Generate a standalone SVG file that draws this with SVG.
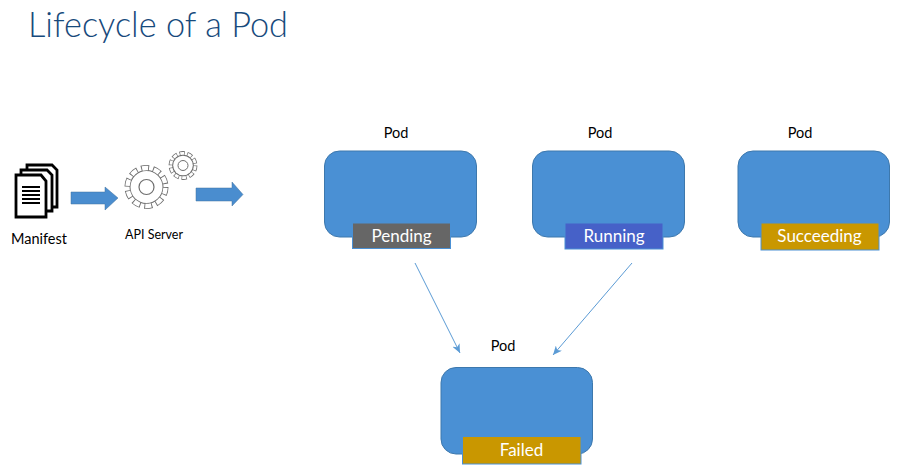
<svg xmlns="http://www.w3.org/2000/svg" width="918" height="473" viewBox="0 0 918 473">
<style>
text{font-family:"Lato","Open Sans","Liberation Sans",sans-serif}
.t{font-size:14.5px;fill:#000;text-anchor:middle}
.s{font-size:17px;fill:#fff;text-anchor:middle}
.pod{fill:#4a90d4;stroke:#3d78ad;stroke-width:1}
.tag{stroke:#4a90d4;stroke-width:1}
.blk{fill:#4a8dcf;stroke:#41719c;stroke-width:.5}
.pg{fill:#fff;stroke:#000;stroke-width:2.8}
.ln{stroke:#000;stroke-width:2}
.c{stroke:#5b9bd5;stroke-width:1;fill:none;marker-end:url(#a)}
.g{fill:none;stroke:#6e6e6e}
.w{fill:none;stroke:#fff}
</style>
<defs>
<marker id="a" markerWidth="10" markerHeight="8" refX="9" refY="4" orient="auto" markerUnits="userSpaceOnUse"><path d="M0 0L9 4L0 8L2.500 4Z" fill="#5b9bd5"/></marker>
</defs>
<rect width="918" height="473" fill="#fff"/>
<text id="title" x="28" y="37" font-size="35" font-weight="300" fill="#174a7c" textLength="260" lengthAdjust="spacingAndGlyphs">Lifecycle of a Pod</text>
<g id="manifest">
<path class="pg" d="M27 165H52L57 170V207H27Z"/>
<path class="pg" d="M21 170H47L52 175V211H21Z"/>
<path class="pg" d="M16 175H41L46 181V217H16Z"/>
<path class="ln" d="M22 187H40M22 191H40M22 195H40M22 199H40M22 203H40"/>
<text class="t" x="39" y="244">Manifest</text>
</g>
<g id="api-server">
<g transform="translate(146.500 187)">
<circle r="17" fill="#6e6e6e"/>
<circle class="g" r="19" stroke-width="6" stroke-dasharray="8 3.938"/>
<circle class="w" r="19" stroke-width="4.400" stroke-dasharray="6.200 5.738" stroke-dashoffset="-.9"/>
<circle r="16" fill="#fff"/>
<circle r="7.500" fill="#fff" stroke="#6e6e6e" stroke-width="1.200"/>
</g>
<g transform="translate(183 165.500)">
<circle r="10.800" fill="#6e6e6e"/>
<circle class="g" r="12.200" stroke-width="4.400" stroke-dasharray="5.200 2.466"/>
<circle class="w" r="12.200" stroke-width="2.800" stroke-dasharray="3.900 3.766" stroke-dashoffset="-.65"/>
<circle r="9.800" fill="#fff"/>
<circle r="5" fill="#fff" stroke="#6e6e6e" stroke-width="1"/>
</g>
<text x="154" y="239" font-size="12.500" fill="#000" text-anchor="middle">API Server</text>
</g>
<g id="pod-pending">
<text class="t" x="396" y="138">Pod</text>
<rect class="pod" x="324.500" y="151" width="152" height="86" rx="15"/>
<rect class="tag" x="352.500" y="223" width="98" height="25.500" fill="#666"/>
<text class="s" x="401.500" y="242">Pending</text>
</g>
<g id="pod-running">
<text class="t" x="600" y="138">Pod</text>
<rect class="pod" x="532.500" y="151" width="152" height="86" rx="15"/>
<rect class="tag" x="565" y="223" width="98" height="26" fill="#4661c8"/>
<text class="s" x="614" y="242">Running</text>
</g>
<g id="pod-succeeding">
<text class="t" x="800" y="138">Pod</text>
<rect class="pod" x="738" y="151" width="151.500" height="86" rx="15"/>
<rect class="tag" x="761" y="223" width="118" height="27" fill="#c99700"/>
<text class="s" x="819.500" y="242">Succeeding</text>
</g>
<g id="pod-failed">
<text class="t" x="503" y="351">Pod</text>
<rect class="pod" x="441" y="367.500" width="151.500" height="86.500" rx="15"/>
<rect class="tag" x="462.500" y="436.500" width="118.500" height="27.500" fill="#c99700"/>
<text class="s" x="521.500" y="456">Failed</text>
</g>
<g id="connectors">
<path class="blk" d="M71 192H105V187L118 198L105 210V204H71Z"/>
<path class="blk" d="M196 188H232V182L243 194.500L232 206V201H196Z"/>
<path class="c" d="M415 263L460 353"/>
<path class="c" d="M632 263L553 355"/>
</g>
</svg>
